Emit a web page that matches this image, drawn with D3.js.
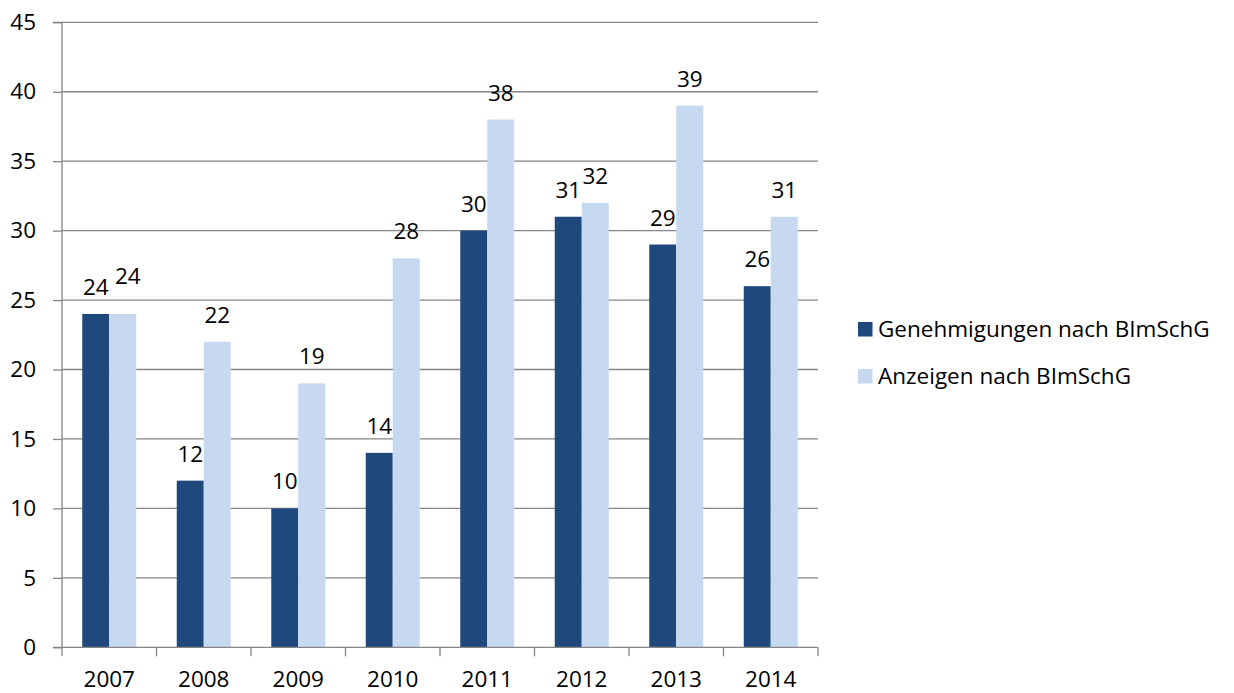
<!DOCTYPE html>
<html><head><meta charset="utf-8">
<script src="https://cdn.jsdelivr.net/npm/d3@7"></script>
<style>
html,body{margin:0;padding:0;background:#fff;}
text{font-family:"Open Sans",sans-serif;fill:#000;}
</style></head>
<body>
<svg id="chart" width="1234" height="693"></svg>
<script>
const years = ["2007","2008","2009","2010","2011","2012","2013","2014"];
const seriesNames = ["Genehmigungen nach BImSchG","Anzeigen nach BImSchG"];
const genehmigungen = [24,12,10,14,30,31,29,26];
const anzeigen = [24,22,19,28,38,32,39,31];
const yTicks = [0,5,10,15,20,25,30,35,40,45];
const colors = ["#1F497D","#C6D9F1"];

(function(){
const svg = d3.select("#chart");
const pLeft = 62, pRight = 818, pTop = 22.3, pBottom = 647.3;
const fs = 22.5;
const grid = "#868686";

const x = d3.scaleBand().domain(years).range([pLeft, pRight]).padding(0);
const xs = d3.scaleBand().domain([0,1]).range([0, x.bandwidth()]).paddingInner(0).paddingOuter(0.75);
const y = d3.scaleLinear().domain([0,45]).range([pBottom, pTop]);

svg.append("g").selectAll("line").data(yTicks.filter(d=>d>0)).join("line")
  .attr("x1", pLeft).attr("x2", pRight)
  .attr("y1", d=>y(d)).attr("y2", d=>y(d))
  .attr("stroke", grid).attr("stroke-width", 1.3);

const data = [genehmigungen, anzeigen];

data.forEach((vals, si) => {
  svg.append("g").selectAll("rect").data(vals).join("rect")
    .attr("x", (d,i)=>x(years[i]) + xs(si))
    .attr("width", xs.bandwidth())
    .attr("y", d=>y(d))
    .attr("height", d=>y(0)-y(d))
    .attr("fill", colors[si]);
});

const yAxis = d3.axisLeft(y).tickValues(yTicks).tickSize(9).tickPadding(17).tickFormat(d3.format("d"));
const gy = svg.append("g").attr("transform", `translate(${pLeft},0)`).call(yAxis);
gy.select(".domain").attr("stroke", grid).attr("stroke-width", 1.3).attr("d", `M-9,${pTop}H0V${pBottom}H-9`);
gy.selectAll(".tick line").attr("stroke", grid).attr("stroke-width", 1.3);
gy.selectAll("text").style("font-size", fs+"px").style("font-family","'Open Sans',sans-serif").attr("fill","#000");

const gx = svg.append("g").attr("transform", `translate(0,${pBottom})`);
gx.append("line").attr("x1", pLeft).attr("x2", pRight).attr("y1",0).attr("y2",0).attr("stroke", grid).attr("stroke-width",1.3);
const bounds = years.map(d=>x(d)).concat([pRight]);
gx.selectAll("line.tk").data(bounds).join("line").attr("class","tk")
  .attr("x1", d=>d).attr("x2", d=>d).attr("y1",0).attr("y2",9)
  .attr("stroke", grid).attr("stroke-width",1.3);
gx.selectAll("text").data(years).join("text")
  .attr("x", d=>x(d)+x.bandwidth()/2).attr("y", 39.5)
  .attr("text-anchor","middle").style("font-size", fs+"px").text(d=>d);

data.forEach((vals, si) => {
  svg.append("g").selectAll("text").data(vals).join("text")
    .attr("x", (d,i)=>{
      let cx = x(years[i]) + xs(si) + xs.bandwidth()/2;
      if (si===1 && genehmigungen[i]===anzeigen[i]) cx += 5;
      return cx;
    })
    .attr("y", (d,i)=>{
      let yy = y(d) - 19;
      if (si===1 && genehmigungen[i]===anzeigen[i]) yy -= 11;
      return yy;
    })
    .attr("text-anchor","middle").style("font-size", fs+"px").text(d=>d);
});

const lg = svg.append("g");
seriesNames.forEach((name, i) => {
  const yy = 322 + i*47;
  lg.append("rect").attr("x", 858).attr("y", yy).attr("width", 14.5).attr("height", 14.5).attr("fill", colors[i]);
  lg.append("text").attr("x", 878).attr("y", yy+14.5).style("font-size", "22.5px").text(name);
});
})();
</script>
</body></html>
